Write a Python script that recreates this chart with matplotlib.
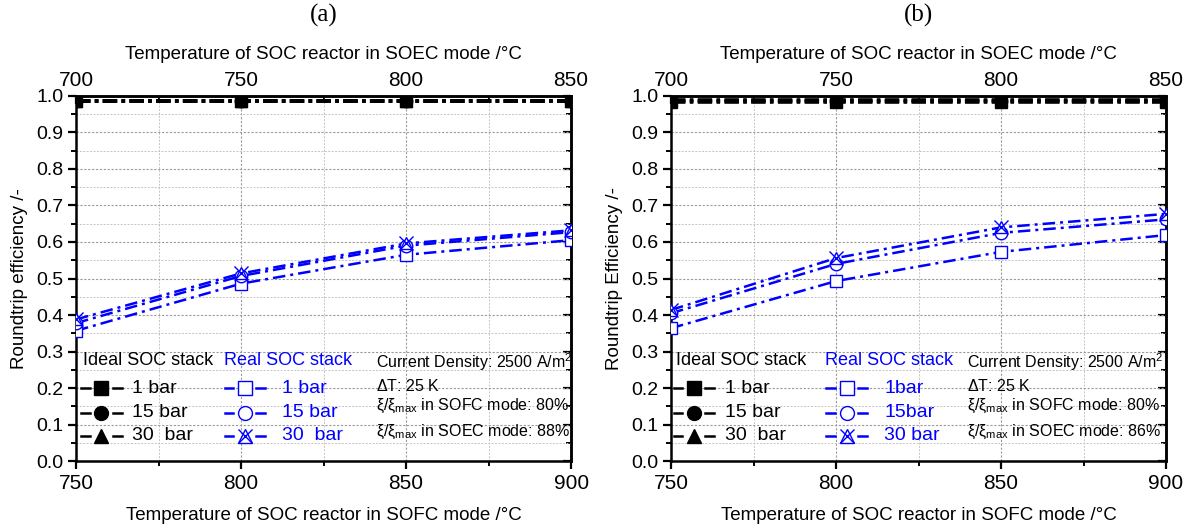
import matplotlib
matplotlib.use("Agg")
import matplotlib.pyplot as plt
from matplotlib.ticker import MultipleLocator, FixedLocator
import numpy as np

plt.rcParams['font.family'] = ['Liberation Sans', 'DejaVu Sans']
plt.rcParams['mathtext.fontset'] = 'custom'
plt.rcParams['mathtext.rm'] = 'Liberation Sans'
plt.rcParams['mathtext.it'] = 'Liberation Sans'

# SOFC-mode temperatures (bottom axis); SOEC mode runs 50 K lower (top axis)
t_sofc = [750, 800, 850, 900]
t_soec_ticks = [700, 750, 800, 850]
soec_offset = 50

# Ideal SOC stack roundtrip efficiency
ideal_a = {"1 bar": [0.985, 0.985, 0.985, 0.985],
           "15 bar": [0.985, 0.985, 0.985, 0.985],
           "30  bar": [0.985, 0.985, 0.985, 0.985]}
ideal_b = {"1 bar": [0.983, 0.983, 0.983, 0.983],
           "15 bar": [0.986, 0.986, 0.986, 0.986],
           "30  bar": [0.989, 0.989, 0.989, 0.989]}

# Real SOC stack roundtrip efficiency
real_a = {"1 bar": [0.357, 0.486, 0.565, 0.605],
          "15 bar": [0.378, 0.507, 0.590, 0.627],
          "30  bar": [0.388, 0.514, 0.596, 0.632]}
real_b = {"1bar": [0.364, 0.493, 0.573, 0.619],
          "15bar": [0.405, 0.540, 0.625, 0.662],
          "30 bar": [0.414, 0.556, 0.640, 0.677]}

panel_titles = ["(a)", "(b)"]
ylabels = ["Roundtrip efficiency /-", "Roundtrip Efficiency /-"]
soec_share = ["88%", "86%"]

ideal_markers = ['s', 'o', '^']
real_markers = ['s', 'o', 'tri']

BLUE = '#0000ff'
ideal_ls = (0, (4.0, 1.2, 1.0, 1.2))
real_ls = (0, (5.0, 2.0, 1.2, 2.0))

fig = plt.figure(figsize=(11.94, 5.27), dpi=100)
axes = [fig.add_axes([0.0637, 0.125, 0.4146, 0.693]),
        fig.add_axes([0.562, 0.125, 0.4146, 0.693])]


def draw_real_marker(ax, x, y, kind, ms, transform=None, clip=True):
    kw = dict(color=BLUE, mfc='white', mec=BLUE, mew=1.0, linestyle='none',
              clip_on=clip, zorder=5)
    if transform is not None:
        kw['transform'] = transform
    if kind == 'tri':
        ax.plot(x, y, marker='^', ms=ms, **kw)
        ax.plot(x, y, marker='x', ms=ms * 1.05, **{k: v for k, v in kw.items() if k != 'mfc'})
    else:
        ax.plot(x, y, marker=kind, ms=ms, **kw)


for i, ax in enumerate(axes):
    ideal = ideal_a if i == 0 else ideal_b
    real = real_a if i == 0 else real_b

    for (name, vals), mk in zip(ideal.items(), ideal_markers):
        ax.plot(t_sofc, vals, color='black', lw=2.6, linestyle=ideal_ls,
                marker=mk, ms=9, zorder=4)
    for (name, vals), mk in zip(real.items(), real_markers):
        ax.plot(t_sofc, vals, color=BLUE, lw=1.8, linestyle=real_ls, zorder=3)
        draw_real_marker(ax, t_sofc, vals, mk, 9)

    ax.set_xlim(750, 900)
    ax.set_ylim(0.0, 1.0)
    ax.set_xticks(t_sofc)
    ax.xaxis.set_minor_locator(FixedLocator([775, 825, 875]))
    yt = np.round(np.arange(0, 1.01, 0.1), 1)
    ax.set_yticks(yt)
    ax.set_yticklabels([f"{v:.1f}" for v in yt])
    ax.yaxis.set_minor_locator(FixedLocator(np.round(np.arange(0.05, 1.0, 0.1), 2)))

    ax.grid(which='major', color='#9a9a9a', linestyle=(0, (2, 1.5)), lw=0.8)
    ax.grid(which='minor', color='#c4c4c4', linestyle=(0, (2, 1.5)), lw=0.7)
    ax.set_axisbelow(True)

    for s in ax.spines.values():
        s.set_linewidth(1.8)

    ax.tick_params(axis='both', which='major', direction='out', length=6, width=1.6,
                   labelsize=15, pad=3)
    ax.tick_params(axis='both', which='minor', direction='out', length=3.5, width=1.4)
    ax.tick_params(axis='y', which='major', labelsize=14)

    # right axis: inward ticks, no labels
    right = ax.secondary_yaxis('right')
    right.set_yticks(yt)
    right.yaxis.set_minor_locator(FixedLocator(np.round(np.arange(0.05, 1.0, 0.1), 2)))
    right.tick_params(which='major', direction='in', length=6, width=1.6, labelright=False)
    right.tick_params(which='minor', direction='in', length=3.5, width=1.4)
    right.spines['right'].set_linewidth(1.8)

    ax.set_xlabel("Temperature of SOC reactor in SOFC mode /\u00b0C", fontsize=13.5, labelpad=10)
    ax.set_ylabel(ylabels[i], fontsize=13.5, labelpad=6)

    # top axis: SOEC temperature
    top = ax.secondary_xaxis('top', functions=(lambda t: t - soec_offset,
                                               lambda t: t + soec_offset))
    top.set_xticks(t_soec_ticks)
    top.xaxis.set_minor_locator(FixedLocator([725, 775, 825]))
    top.tick_params(which='major', direction='in', length=6, width=1.6, labelsize=15, pad=4)
    top.tick_params(which='minor', direction='in', length=3.5, width=1.4)
    top.spines['top'].set_linewidth(1.8)
    top.set_xlabel("Temperature of SOC reactor in SOEC mode /\u00b0C", fontsize=13.5, labelpad=9)

    pos = ax.get_position()
    fig.text((pos.x0 + pos.x1) / 2, 1 - 15 / 527, panel_titles[i], fontsize=18,
             family=['Liberation Serif', 'DejaVu Serif'], ha='center', va='center')

    # custom legend blocks
    tr = ax.transAxes
    if i == 0:
        ix0, rx0, nx = 0.015, 0.298, 0.605
    else:
        ix0, rx0, nx = 0.01, 0.312, 0.597
    row_y = [0.275, 0.200, 0.133, 0.070]
    ax.text(ix0, row_y[0], "Ideal SOC stack", transform=tr, fontsize=13, color='black',
            va='center', ha='left')
    ax.text(rx0, row_y[0], "Real SOC stack", transform=tr, fontsize=13, color=BLUE,
            va='center', ha='left')
    hw = 0.082
    for k, (iname, rname) in enumerate(zip(ideal.keys(), real.keys())):
        y = row_y[k + 1]
        # ideal sample
        hx = ix0 - 0.005
        ax.plot([hx, hx + 0.018], [y, y], color='black', lw=1.8, transform=tr, clip_on=False)
        ax.plot([hx + 0.064, hx + hw], [y, y], color='black', lw=1.8, transform=tr, clip_on=False)
        ax.plot([hx + 0.041], [y], marker=ideal_markers[k], ms=10, color='black',
                transform=tr, clip_on=False)
        ax.text(hx + hw + 0.022, y, iname, transform=tr, fontsize=14, va='center', ha='left')
        # real sample
        rx = rx0 + 0.002
        ax.plot([rx, rx + 0.018], [y, y], color=BLUE, lw=1.8, transform=tr, clip_on=False)
        ax.plot([rx + 0.064, rx + hw], [y, y], color=BLUE, lw=1.8, transform=tr, clip_on=False)
        draw_real_marker(ax, [rx + 0.041], [y], real_markers[k], 10, transform=tr, clip=False)
        ax.text(rx + hw + 0.035, y, rname, transform=tr, fontsize=14, va='center', ha='left',
                color=BLUE)

    notes = ["Current Density: 2500 A/m$^2$",
             "$\\Delta$T: 25 K",
             "\u03be/\u03be$_{\\mathrm{max}}$ in SOFC mode: 80%",
             "\u03be/\u03be$_{\\mathrm{max}}$ in SOEC mode: " + soec_share[i]]
    note_y = [0.270, 0.207, 0.150, 0.080]
    for txt, y in zip(notes, note_y):
        ax.text(nx, y, txt, transform=tr, fontsize=11.5, va='center', ha='left')

fig.savefig("out.png", dpi=100)
